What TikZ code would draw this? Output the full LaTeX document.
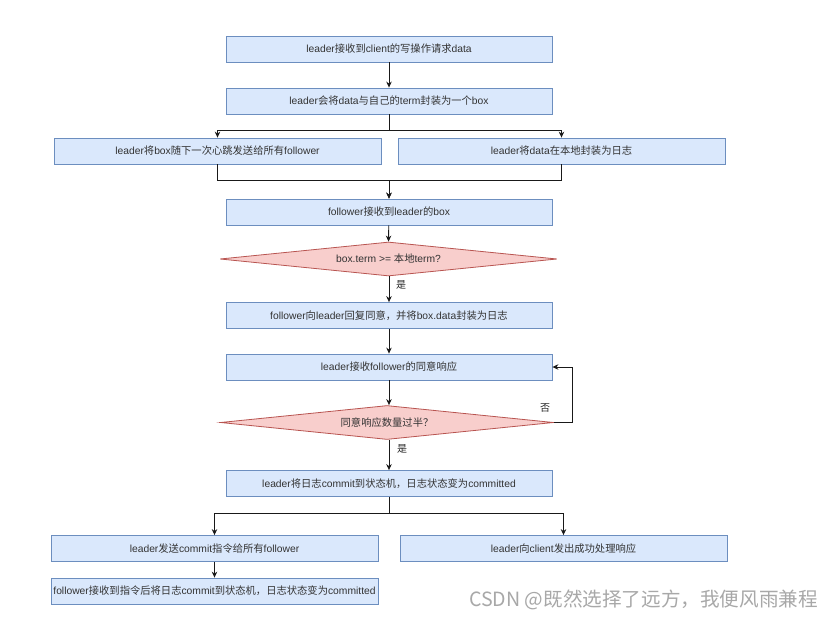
\documentclass[tikz,border=0pt]{standalone}
\usepackage{fontspec}
\setmainfont{Liberation Sans}
\newfontfamily\zhfont{Noto Sans CJK SC}
\newcommand\zh[1]{{\zhfont #1}}
\usetikzlibrary{shapes.geometric,arrows.meta}
\definecolor{boxfill}{HTML}{DAE8FC}
\definecolor{boxline}{HTML}{6C8EBF}
\definecolor{dfill}{HTML}{F8CECC}
\definecolor{dline}{HTML}{B85450}
\definecolor{txt}{HTML}{333333}
\definecolor{wm}{HTML}{A8A8A8}
\begin{document}
\begin{tikzpicture}[x=1pt,y=-1pt,
  box/.style={draw=boxline, fill=boxfill, line width=0.8pt, minimum width=326pt, minimum height=26pt, inner sep=0pt, font=\fontsize{10.3}{12}\selectfont, text=txt},
  dec/.style={diamond, draw=dline, fill=dfill, line width=0.8pt, aspect=10, inner sep=0pt, minimum height=34pt, font=\fontsize{10.3}{12}\selectfont, text=txt},
  conn/.style={draw=black!90, line width=0.9pt, -{Stealth[length=6pt,width=5.5pt]}},
  lab/.style={font=\fontsize{10}{12}\selectfont, text=black!85, inner sep=0pt}]
\useasboundingbox[fill=white] (0,0) rectangle (835,623);

\node[box] (b1) at (389,49) {leader\zh{接收到}client\zh{的写操作请求}data};
\node[box] (b2) at (389,101) {leader\zh{会将}data\zh{与自己的}term\zh{封装为一个}box};
\node[box, minimum width=327pt] (b3) at (217.5,151) {leader\zh{将}box\zh{随下一次心跳发送给所有}follower};
\node[box, minimum width=327pt] (b4) at (561.5,151) {leader\zh{将}data\zh{在本地封装为日志}};
\node[box] (b5) at (389,212) {follower\zh{接收到}leader\zh{的}box};
\node[dec, minimum width=337pt] (d1) at (388.5,259) {box.term >= \zh{本地}term?};
\node[box] (b6) at (389,315.5) {follower\zh{向}leader\zh{回复同意，并将}box.data\zh{封装为日志}};
\node[box] (b7) at (389,367) {leader\zh{接收}follower\zh{的同意响应}};
\node[dec, minimum width=333pt] (d2) at (387,422.5) {\zh{同意响应数量过半？}};
\node[box] (b8) at (389,483.5) {leader\zh{将日志}commit\zh{到状态机，日志状态变为}committed};
\node[box, minimum width=327pt] (b9) at (214.5,548.5) {leader\zh{发送}commit\zh{指令给所有}follower};
\node[box, minimum width=327pt] (b10) at (563.5,548.5) {leader\zh{向}client\zh{发出成功处理响应}};
\node[box, minimum width=327pt] (b11) at (214.5,591) {follower\zh{接收到指令后将日志}commit\zh{到状态机，日志状态变为}committed};

\draw[conn] (b1) -- (b2);
\draw[conn] (b2.south) -- ++(0,16) -| (b3.north);
\draw[conn] (b2.south) -- ++(0,16) -| (b4.north);
\draw[conn] (b3.south) -- ++(0,16) -| (b5.north);
\draw[conn] (b4.south) -- ++(0,16) -| (b5.north);
\draw[conn] (b5) -- (d1.north);
\draw[conn] (d1.south) -- (b6.north |- d1.south) -- (b6.north);
\node[lab, anchor=west] (yes1) at (396,285) {\zh{是}};
\draw[conn] (b6) -- (b7);
\draw[conn] (b7) -- (b7.south |- d2.north);
\draw[conn] (d2.east) -- ++(19,0) |- (b7.east);
\node[lab] (no) at (545,408) {\zh{否}};
\draw[conn] (b8.north |- d2.south) -- (b8.north);
\node[lab, anchor=west] (yes2) at (397,449) {\zh{是}};
\draw[conn] (b8.south) -- ++(0,17) -| (b9.north);
\draw[conn] (b8.south) -- ++(0,17) -| (b10.north);
\draw[conn] (b9) -- (b11);

\node[anchor=west, inner sep=0pt, text=wm, font=\zhfont\fontsize{19.6}{22}\selectfont] (wmark) at (469,600) {CSDN @既然选择了远方，我便风雨兼程};
\end{tikzpicture}
\end{document}
